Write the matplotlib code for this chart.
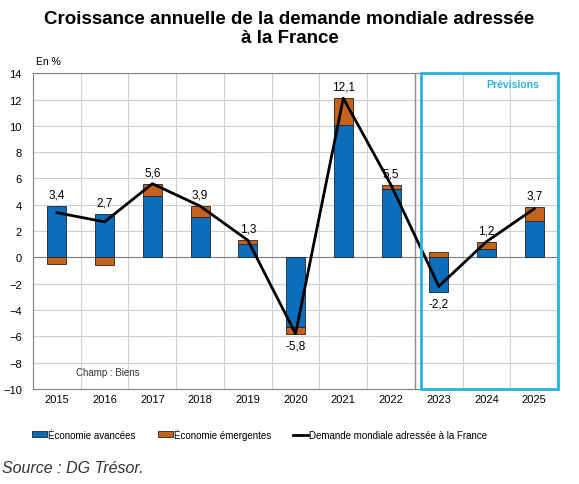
import matplotlib
matplotlib.use("Agg")
import matplotlib.pyplot as plt
import numpy as np

plt.rcParams['font.family'] = ['Liberation Sans', 'DejaVu Sans']

annees = ['2015', '2016', '2017', '2018', '2019', '2020', '2021', '2022', '2023', '2024', '2025']
avancees = [3.9, 3.3, 4.7, 3.1, 1.0, -5.3, 10.1, 5.2, -2.6, 0.6, 2.8]
emergentes = [-0.5, -0.6, 0.9, 0.8, 0.3, -0.5, 2.0, 0.3, 0.4, 0.6, 1.0]
demande = [3.4, 2.7, 5.6, 3.9, 1.3, -5.8, 12.1, 5.5, -2.2, 1.2, 3.7]
etiquettes = ['3,4', '2,7', '5,6', '3,9', '1,3', '-5,8', '12,1', '5,5', '-2,2', '1,2', '3,7']
debut_prev = 8  # indice de 2023

bleu = '#0a6ebd'
orange = '#c5621b'
cyan = '#29b1e0'

fig = plt.figure(figsize=(5.79, 4.85), dpi=100)
ax = fig.add_axes([0.057, 0.196, 0.907, 0.651])

x = np.arange(len(annees))
av = np.array(avancees)
em = np.array(emergentes)

# empilement : positifs sur positifs, negatifs sous negatifs
bas_em = np.where((em >= 0) == (av >= 0), av, 0)
b1 = ax.bar(x, av, width=0.4, color=bleu, edgecolor='#222222', linewidth=0.6, zorder=3,
            label='Économie avancées')
b2 = ax.bar(x, em, width=0.4, bottom=bas_em, color=orange, edgecolor='#222222', linewidth=0.6,
            zorder=3, label='Économie émergentes')
l1, = ax.plot(x, demande, color='black', linewidth=2, zorder=4,
              label='Demande mondiale adressée à la France')

# etiquettes de valeurs
haut = np.maximum(np.maximum(av, 0) + np.maximum(em, 0), 0)
bas = np.minimum(av, 0) + np.minimum(em, 0)
for i, v in enumerate(demande):
    if v >= 0:
        ax.annotate(etiquettes[i], (x[i], max(haut[i], v)), xytext=(0, 4),
                    textcoords='offset points', ha='center', va='bottom', fontsize=8.5, zorder=5)
    else:
        ax.annotate(etiquettes[i], (x[i], min(bas[i], v)), xytext=(0, -4),
                    textcoords='offset points', ha='center', va='top', fontsize=8.5, zorder=5)

ax.set_xlim(-0.5, len(annees) - 0.5)
ax.set_ylim(-10, 14)
ax.set_yticks(np.arange(-10, 15, 2))
ax.set_xticks(x)
ax.set_xticklabels(annees)
ax.set_xticks(x[:-1] + 0.5, minor=True)
ax.grid(axis='y', color='#d0d0d0', linewidth=0.8, zorder=0)
ax.grid(axis='x', which='minor', color='#d0d0d0', linewidth=0.8, zorder=0)
ax.grid(axis='x', which='major', visible=False)
ax.axhline(0, color='#808080', linewidth=0.8, zorder=2)
ax.axvline(debut_prev - 0.5, color='#909090', linewidth=1, zorder=2)
ax.tick_params(axis='both', which='both', length=0, labelsize=8)
ax.tick_params(axis='y', pad=8)
for s in ax.spines.values():
    s.set_color('#808080')
    s.set_linewidth(0.8)

# cadre des previsions
g = debut_prev - 0.38
ax.add_patch(plt.Rectangle((g, -10), (len(annees) - 0.5) - g, 24,
                           fill=False, edgecolor=cyan, linewidth=2, zorder=6, clip_on=False))
ax.text(10.1, 13.2, 'Prévisions', color=cyan, fontsize=7.5, fontweight='bold',
        ha='right', va='center', zorder=6)

ax.text(0.4, -8.7, 'Champ : Biens', fontsize=7, color='#333333', va='center')
fig.text(0.062, 0.873, 'En %', fontsize=7.5, va='center')

fig.text(0.5, 0.94, 'Croissance annuelle de la demande mondiale adressée\nà la France',
         ha='center', va='center', fontsize=13.5, fontweight='bold', linespacing=1.15)

fig.legend([b1, b2, l1], [b1.get_label(), b2.get_label(), l1.get_label()],
           loc='center left', bbox_to_anchor=(0.055, 0.103), ncol=3, frameon=False,
           borderpad=0, borderaxespad=0,
           fontsize=7, handlelength=1.55, handleheight=0.6, handletextpad=0.1, columnspacing=2.3)

fig.text(0.004, 0.035, 'Source : DG Trésor.', fontsize=11.5, style='italic', color='#333333',
         va='center')

fig.savefig('out.png', dpi=100)
